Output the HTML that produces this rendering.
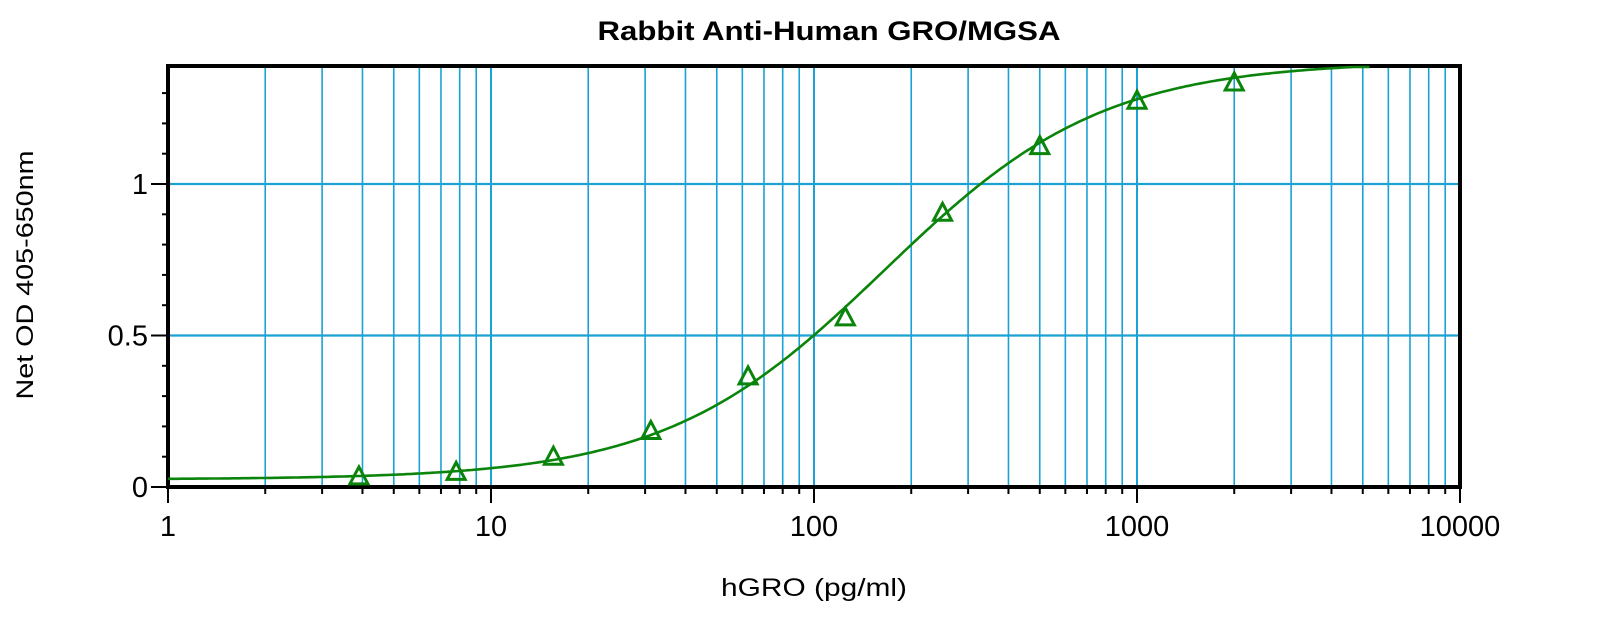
<!DOCTYPE html>
<html><head><meta charset="utf-8"><style>
html,body{margin:0;padding:0;background:#fff;}
svg{display:block;font-family:"Liberation Sans",Arial,sans-serif;}
</style></head><body>
<svg id="c" width="1599" height="619" viewBox="0 0 1599 619" xmlns="http://www.w3.org/2000/svg">
<text x="829" y="40" text-anchor="middle" font-size="27" font-weight="bold" textLength="463" lengthAdjust="spacingAndGlyphs">Rabbit Anti-Human GRO/MGSA</text>
<text x="814" y="596" text-anchor="middle" font-size="25" textLength="186" lengthAdjust="spacingAndGlyphs">hGRO (pg/ml)</text>
<text transform="translate(33,275) rotate(-90)" text-anchor="middle" font-size="24" textLength="249" lengthAdjust="spacingAndGlyphs">Net OD 405-650nm</text>
<g id="grid"></g>
<g id="axes"></g>
<g id="series"></g>
</svg>
<script>
var L=168,R=1460,T=66,B=487,D=323,U=303;
function X(v){return L+Math.log10(v)*D;}
function Y(v){return B-v*U;}
var ns="http://www.w3.org/2000/svg";
function el(p,t,a,txt){var e=document.createElementNS(ns,t);for(var k in a)e.setAttribute(k,a[k]);if(txt!=null)e.textContent=txt;document.getElementById(p).appendChild(e);return e;}
for(var d=0;d<4;d++){for(var m=1;m<10;m++){var v=m*Math.pow(10,d);if(v==1)continue;var x=X(v);
el("grid","line",{x1:x,x2:x,y1:T,y2:B,stroke:"#1aa2d4","stroke-width":m==1?2:1.6});
el("axes","line",{x1:x,x2:x,y1:B,y2:B+(m==1?16:7),stroke:"#000","stroke-width":2});}}
el("axes","line",{x1:L,x2:L,y1:B,y2:B+16,stroke:"#000","stroke-width":2});
el("axes","line",{x1:R,x2:R,y1:B,y2:B+16,stroke:"#000","stroke-width":2});
[0.5,1].forEach(function(v){el("grid","line",{x1:L,x2:R,y1:Y(v),y2:Y(v),stroke:"#1aa2d4","stroke-width":2.2});});
for(var i=0;i<=13;i++){var v=i/10,y=Y(v);var major=(i==0||i==5||i==10);
el("axes","line",{x1:L-(major?17:6),x2:L,y1:y,y2:y,stroke:"#000","stroke-width":2});}
el("axes","rect",{x:L,y:T,width:R-L,height:B-T,fill:"none",stroke:"#000","stroke-width":4});
["1","10","100","1000","10000"].forEach(function(s,i){el("axes","text",{x:L+i*D,y:536,"text-anchor":"middle","font-size":29},s);});
[["0",0],["0.5",0.5],["1",1]].forEach(function(a){el("axes","text",{x:148,y:Y(a[1])+10,"text-anchor":"end","font-size":29},a[0]);});
var A=0.025,Dm=1.405,C=165,Bb=1.28,pts=[];
for(var lx=0;lx<=3.72;lx+=0.01){var x=Math.pow(10,lx);var y=Dm+(A-Dm)/(1+Math.pow(x/C,Bb));var py=Math.max(Y(y),T+1);pts.push(X(x).toFixed(1)+","+py.toFixed(1));}
el("series","polyline",{points:pts.join(" "),fill:"none",stroke:"#0b840b","stroke-width":2.6});
var data=[[3.9,0.03],[7.8,0.045],[15.6,0.095],[31.25,0.18],[62.5,0.36],[125,0.555],[250,0.9],[500,1.12],[1000,1.27],[2000,1.33]];
data.forEach(function(p){var x=X(p[0]),y=Y(p[1]);
el("series","polygon",{points:(x)+","+(y-11)+" "+(x-9)+","+(y+6)+" "+(x+9)+","+(y+6),fill:"none",stroke:"#0b840b","stroke-width":3});});
</script>
</body></html>
